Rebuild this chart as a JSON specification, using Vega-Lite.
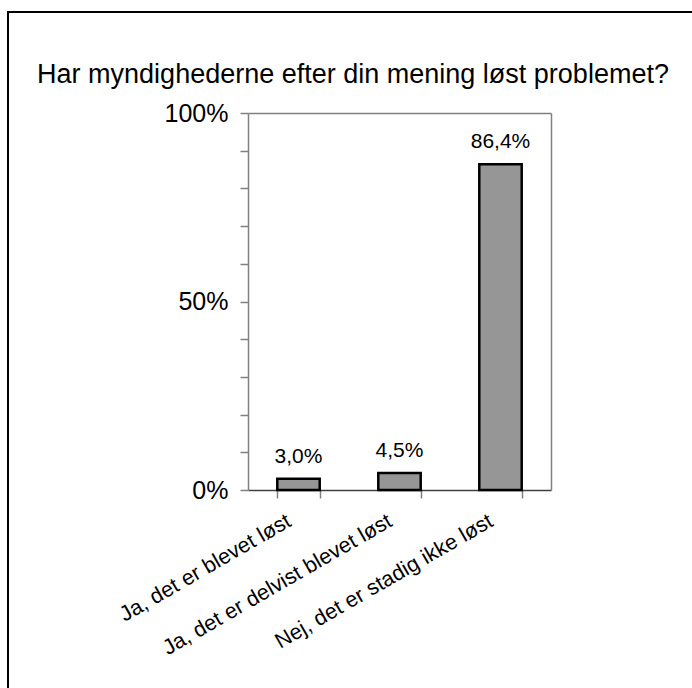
{
  "$schema": "https://vega.github.io/schema/vega-lite/v6.json",
  "autosize": "none",
  "padding": {"left": 8, "top": 12, "right": 0, "bottom": 0},
  "width": 700,
  "height": 700,
  "background": "white",
  "view": {"stroke": "#000000", "strokeWidth": 2, "fill": "white"},
  "title": {
    "text": "Har myndighederne efter din mening løst problemet?",
    "font": "Liberation Sans",
    "fontSize": 27,
    "fontWeight": "normal",
    "color": "#000000",
    "anchor": "middle",
    "frame": "group",
    "baseline": "alphabetic",
    "offset": 0,
    "dx": -5,
    "dy": 98
  },
  "data": {
    "values": [
      {"svar": "Ja, det er blevet løst", "andel": 0.03, "label": "3,0%"},
      {"svar": "Ja, det er delvist blevet løst", "andel": 0.045, "label": "4,5%"},
      {"svar": "Nej, det er stadig ikke løst", "andel": 0.864, "label": "86,4%"}
    ]
  },
  "resolve": {"axis": {"x": "independent", "y": "independent"}},
  "layer": [
    {
      "mark": {"type": "bar", "fill": "#969696", "stroke": "#000000", "strokeWidth": 2.5},
      "encoding": {
        "x": {
          "field": "svar",
          "type": "nominal",
          "sort": null,
          "scale": {"range": [240, 543], "paddingInner": 0.58, "paddingOuter": 0.29},
          "axis": {
            "title": null,
            "orient": "bottom",
            "offset": -222,
            "domainColor": "#404040",
            "domainWidth": 1.5,
            "tickColor": "#808080",
            "tickSize": 8,
            "tickWidth": 1.5,
            "tickBand": "extent",
            "labelAngle": -30,
            "labelAlign": "right",
            "labelBaseline": "top",
            "labelFont": "Liberation Sans",
            "labelFontSize": 21.5,
            "labelColor": "#000000",
            "labelPadding": 12,
            "labelOffset": -15,
            "labelLimit": 0
          }
        },
        "y": {
          "field": "andel",
          "type": "quantitative",
          "scale": {"domain": [0, 1], "range": [478, 101], "nice": false},
          "axis": {
            "title": null,
            "orient": "left",
            "offset": -240,
            "values": [0, 0.1, 0.2, 0.3, 0.4, 0.5, 0.6, 0.7, 0.8, 0.9, 1],
            "labelExpr": "datum.value == 0 ? '0%' : datum.value == 0.5 ? '50%' : datum.value == 1 ? '100%' : ''",
            "domainColor": "#808080",
            "domainWidth": 1.5,
            "tickColor": "#808080",
            "tickSize": 8,
            "tickWidth": 1.5,
            "labelFont": "Liberation Sans",
            "labelFontSize": 25,
            "labelColor": "#000000",
            "labelPadding": 12,
            "labelBaseline": "middle",
            "grid": false
          }
        }
      }
    },
    {
      "mark": {"type": "text", "font": "Liberation Sans", "fontSize": 21, "color": "#000000", "baseline": "alphabetic", "dy": -16},
      "encoding": {
        "x": {
          "field": "svar",
          "type": "nominal",
          "sort": null,
          "axis": {
            "title": null,
            "orient": "top",
            "offset": -101,
            "domainColor": "#808080",
            "domainWidth": 1.5,
            "ticks": false,
            "labels": false
          }
        },
        "y": {
          "field": "andel",
          "type": "quantitative",
          "axis": {
            "title": null,
            "orient": "right",
            "offset": -157,
            "domainColor": "#808080",
            "domainWidth": 1.5,
            "ticks": false,
            "labels": false,
            "grid": false
          }
        },
        "text": {"field": "label"}
      }
    }
  ]
}
